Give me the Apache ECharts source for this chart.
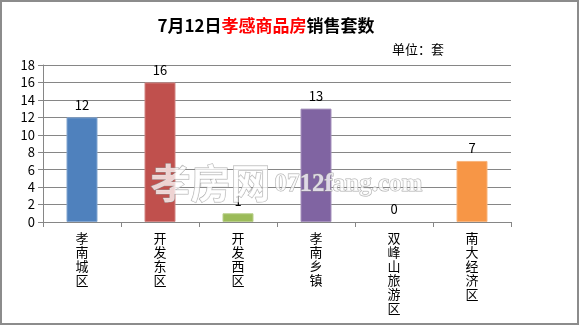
<!DOCTYPE html>
<html><head><meta charset="utf-8">
<script src="https://cdn.jsdelivr.net/npm/echarts@6/dist/echarts.min.js"></script>
<style>html,body{margin:0;padding:0;background:#fff}#c{width:579px;height:325px;box-sizing:border-box;border:2px solid #8c8c8c}</style>
</head><body><div id="c"></div>
<script>
const categories = ['孝南城区','开发东区','开发西区','孝南乡镇','双峰山旅游区','南大经济区'];
const values = [12, 16, 1, 13, 0, 7];
const barColors = ['#4F81BD','#C0504D','#9BBB59','#8064A2','#4BACC6','#F79646'];
const yTicks = {min: 0, max: 18, interval: 2};

const chart = echarts.init(document.getElementById('c'), null, {renderer: 'canvas'});
const font = '"Microsoft YaHei","Noto Sans CJK SC",sans-serif';
chart.setOption({
  animation: false,
  title: {
    text: '{b|7月12日}{r|孝感商品房}{b|销售套数}',
    left: 259, top: 10, textAlign: 'center',
    textStyle: {
      rich: {
        b: {fontSize: 17, fontWeight: 'bold', color: '#000', fontFamily: font},
        r: {fontSize: 17, fontWeight: 'bold', color: '#ff0000', fontFamily: font}
      }
    }
  },
  graphic: [
    {type: 'text', left: 390, top: 41, style: {text: '单位：套', fontSize: 13, fill: '#000', fontFamily: font}},
    {type: 'text', left: 148, top: 160, z: 100, style: {text: '孝房网', fontSize: 40, fontWeight: 'bold', fill: 'rgba(255,255,255,0.75)', stroke: 'rgba(150,150,150,0.8)', lineWidth: 1, fontFamily: font}},
    {type: 'text', left: 272, top: 170, z: 100, style: {text: '0712fang.com', fontSize: 25, fontWeight: 'bold', fill: 'rgba(255,255,255,0.75)', stroke: 'rgba(150,150,150,0.8)', lineWidth: 1, fontFamily: '"Liberation Serif",serif'}}
  ],
  grid: {left: 41, right: 66, top: 63, bottom: 101, containLabel: false},
  xAxis: {
    type: 'category', data: categories,
    axisLine: {lineStyle: {color: '#868686'}},
    axisTick: {show: true, alignWithLabel: false, length: 5, lineStyle: {color: '#868686'}},
    axisLabel: {
      interval: 0, color: '#000', fontSize: 13, fontFamily: font, lineHeight: 14, margin: 9,
      verticalAlign: 'top',
      formatter: v => v.split('').join('\n')
    }
  },
  yAxis: {
    type: 'value', min: yTicks.min, max: yTicks.max, interval: yTicks.interval,
    axisLine: {show: true, lineStyle: {color: '#868686'}},
    axisTick: {show: true, length: 5, lineStyle: {color: '#868686'}},
    axisLabel: {color: '#000', fontSize: 13, fontFamily: font, margin: 8},
    splitLine: {lineStyle: {color: '#868686'}}
  },
  series: [{
    type: 'bar', barWidth: 31,
    data: values.map((v, i) => ({value: v, itemStyle: {color: barColors[i], borderColor: echarts.color.lift(barColors[i], 0.3), borderWidth: v === 0 ? 0 : 1}})),
    label: {show: true, position: 'top', distance: 6, color: '#000', fontSize: 13, fontFamily: font}
  }]
});
</script></body></html>
